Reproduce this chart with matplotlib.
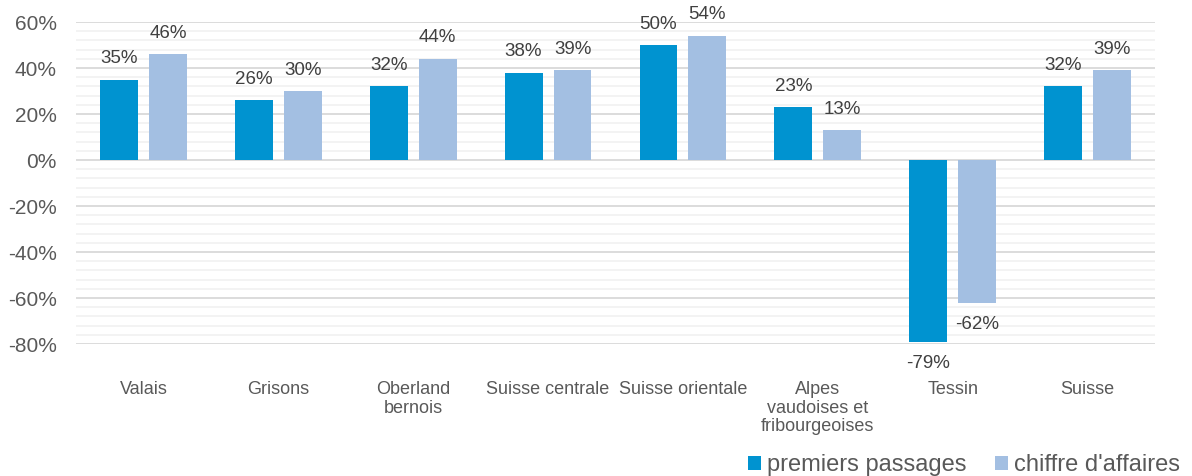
import numpy as np
import matplotlib
matplotlib.use('Agg')
import matplotlib.pyplot as plt
from matplotlib.ticker import MultipleLocator, FuncFormatter

# Data
categories = ['Valais', 'Grisons', 'Oberland\nbernois', 'Suisse centrale',
              'Suisse orientale', 'Alpes\nvaudoises et\nfribourgeoises',
              'Tessin', 'Suisse']
premiers_passages = [35, 26, 32, 38, 50, 23, -79, 32]
chiffre_affaires = [46, 30, 44, 39, 54, 13, -62, 39]
series_names = ['premiers passages', "chiffre d'affaires"]

DARK = '#0093D0'
LIGHT = '#A3BFE2'
TEXT = '#595959'
LABEL = '#404040'

plt.rcParams['font.family'] = ['Liberation Sans', 'DejaVu Sans']

fig = plt.figure(figsize=(11.92, 4.76), dpi=100)
ax = fig.add_axes([76 / 1192, 1 - 344 / 476, (1155 - 76) / 1192, (344 - 22) / 476])

x = np.arange(len(categories))
width = 0.281
offset = 0.1815

bars1 = ax.bar(x - offset, premiers_passages, width, color=DARK, zorder=3,
               label=series_names[0])
bars2 = ax.bar(x + offset, chiffre_affaires, width, color=LIGHT, zorder=3,
               label=series_names[1])

# value labels above / below the bars
for bars in (bars1, bars2):
    for b in bars:
        v = b.get_height()
        dy = 15 if v >= 0 else -16
        ax.annotate('%d%%' % round(v), (b.get_x() + b.get_width() / 2, v),
                    xytext=(0, dy), textcoords='offset points',
                    ha='center', va='center', fontsize=13.5, color=LABEL)

ax.set_ylim(-80, 60)
ax.set_xlim(-0.5, len(categories) - 0.5)
ax.yaxis.set_major_locator(MultipleLocator(20))
ax.yaxis.set_minor_locator(MultipleLocator(4))
ax.yaxis.set_major_formatter(FuncFormatter(lambda v, p: '%d%%' % v))
ax.grid(axis='y', which='minor', color='#F2F2F2', linewidth=1.3, zorder=0)
ax.grid(axis='y', which='major', color='#D9D9D9', linewidth=1.3, zorder=1)
ax.set_axisbelow(True)

for s in ax.spines.values():
    s.set_visible(False)

ax.tick_params(axis='y', which='both', length=0, labelsize=15, labelcolor=TEXT, pad=14)
ax.set_xticks(x)
ax.set_xticklabels(categories, fontsize=13, color=TEXT, linespacing=1.1)
ax.tick_params(axis='x', length=0, pad=27)

fig.legend(loc='center right', bbox_to_anchor=(1175 / 1192 + 0.004, 1 - 465 / 476),
           ncol=2, frameon=False, fontsize=17, handlelength=0.55, handleheight=0.55,
           handletextpad=0.25, columnspacing=1.2, borderpad=0, borderaxespad=0,
           labelcolor=TEXT)

fig.savefig('out.png', dpi=100)
